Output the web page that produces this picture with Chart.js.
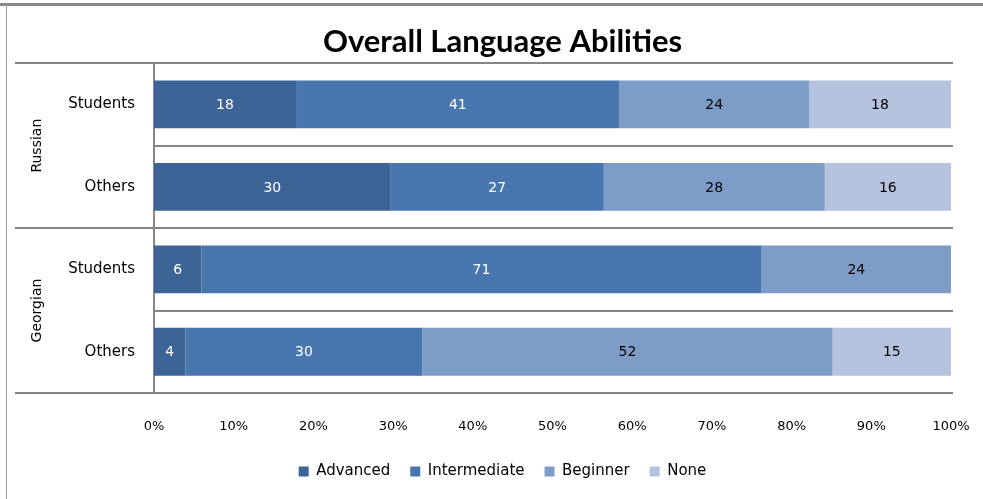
<!DOCTYPE html>
<html>
<head>
<meta charset="utf-8">
<script src="https://cdn.jsdelivr.net/npm/chart.js@4"></script>
<style>
html,body{margin:0;padding:0;background:#fff;}
#wrap{width:983px;height:499px;position:relative;}
</style>
</head>
<body>
<div id="wrap"><canvas id="c" width="983" height="499"></canvas></div>
<script>
const categories = ["Students", "Others", "Students", "Others"];
const groups = ["Russian", "Georgian"];
const seriesNames = ["Advanced", "Intermediate", "Beginner", "None"];
const advanced = [18, 30, 6, 4];
const intermediate = [41, 27, 71, 30];
const beginner = [24, 28, 24, 52];
const none = [18, 16, null, 15];
const xTicks = [0, 10, 20, 30, 40, 50, 60, 70, 80, 90, 100];

const colors = ["#3D6496", "#4877B0", "#7E9CC8", "#B5C3DE"];
const labelColors = ["#ffffff", "#ffffff", "#000000", "#000000"];
const raw = [advanced, intermediate, beginner, none];
const totals = categories.map((_, i) => raw.reduce((s, arr) => s + (arr[i] || 0), 0));

const datasets = raw.map((arr, k) => ({
  label: seriesNames[k],
  data: arr.map((v, i) => v == null ? null : v / totals[i] * 100),
  rawValues: arr,
  backgroundColor: colors[k],
  borderWidth: 0,
  categoryPercentage: 1.0,
  barPercentage: 0.58
}));

const framePlugin = {
  id: 'frame',
  beforeDraw(chart) {
    const ctx = chart.ctx;
    ctx.save();
    ctx.fillStyle = '#ffffff';
    ctx.fillRect(0, 0, chart.width, chart.height);
    ctx.fillStyle = '#888888';
    ctx.fillRect(0, 3, chart.width, 3);
    ctx.fillStyle = '#9a9a9a';
    ctx.fillRect(6, 4, 1, chart.height - 4);
    ctx.restore();
  }
};

const gridPlugin = {
  id: 'groupGrid',
  afterDraw(chart) {
    const ctx = chart.ctx;
    const y = chart.scales.y;
    const area = chart.chartArea;
    const n = categories.length;
    const pitch = (n > 1) ? (y.getPixelForValue(1) - y.getPixelForValue(0)) : (area.bottom - area.top);
    ctx.save();
    ctx.strokeStyle = '#868686';
    ctx.lineWidth = 2;
    for (let i = 0; i <= n; i++) {
      const py = Math.round(y.getPixelForValue(0) + (i - 0.5) * pitch);
      const isGroup = (i % 2 === 0);
      ctx.beginPath();
      ctx.moveTo(isGroup ? 15 : area.left, py);
      ctx.lineTo(area.right + 2, py);
      ctx.stroke();
    }
    ctx.fillStyle = '#000';
    ctx.font = '14px "DejaVu Sans"';
    ctx.textAlign = 'center';
    ctx.textBaseline = 'middle';
    groups.forEach((g, gi) => {
      const cy = (y.getPixelForValue(gi * 2) + y.getPixelForValue(gi * 2 + 1)) / 2;
      ctx.save();
      ctx.translate(37, cy);
      ctx.rotate(-Math.PI / 2);
      ctx.fillText(g, 0, 0);
      ctx.restore();
    });
    ctx.restore();
  }
};

const valueLabelPlugin = {
  id: 'valueLabels',
  afterDatasetsDraw(chart) {
    const ctx = chart.ctx;
    ctx.save();
    ctx.font = '14px "DejaVu Sans"';
    ctx.textAlign = 'center';
    ctx.textBaseline = 'middle';
    chart.data.datasets.forEach((ds, k) => {
      const meta = chart.getDatasetMeta(k);
      meta.data.forEach((el, i) => {
        const v = ds.rawValues[i];
        if (v == null) return;
        ctx.fillStyle = labelColors[k];
        ctx.fillText(String(v), (el.x + el.base) / 2, el.y + 1);
      });
    });
    ctx.restore();
  }
};

new Chart(document.getElementById('c'), {
  type: 'bar',
  data: { labels: categories, datasets },
  options: {
    indexAxis: 'y',
    responsive: false,
    animation: false,
    devicePixelRatio: 1,
    layout: { padding: { left: 22, right: 0, top: 0, bottom: 10 } },
    scales: {
      x: {
        stacked: true,
        min: 0, max: 100,
        afterBuildTicks(scale) { scale.ticks = xTicks.map(v => ({ value: v })); },
        ticks: {
          callback: v => v + '%',
          font: { family: 'DejaVu Sans', size: 13 },
          color: '#000',
          padding: 3,
          maxRotation: 0,
          autoSkip: false
        },
        grid: { display: false, drawTicks: true, tickLength: 23 },
        border: { display: false },
        afterFit(scale) { scale.height = 51; }
      },
      y: {
        stacked: true,
        ticks: {
          font: { family: 'DejaVu Sans', size: 15 },
          color: '#000',
          padding: 19
        },
        grid: { display: false, drawTicks: false },
        border: { display: true, color: '#868686', width: 2 },
        afterFit(scale) { scale.width = 132; }
      },
      y2: {
        position: 'right',
        display: true,
        ticks: { display: false },
        grid: { display: false, drawTicks: false },
        border: { display: false },
        afterFit(scale) { scale.width = 32; }
      }
    },
    plugins: {
      title: {
        display: true,
        text: 'Overall Language Abilities',
        font: { family: 'Lato', size: 31, weight: 'bold' },
        color: '#000',
        padding: { top: 23, bottom: 3 }
      },
      legend: {
        position: 'bottom',
        labels: {
          boxWidth: 10,
          boxHeight: 10,
          padding: 20,
          font: { family: 'DejaVu Sans', size: 15 },
          color: '#000'
        }
      },
      tooltip: { enabled: false }
    }
  },
  plugins: [framePlugin, gridPlugin, valueLabelPlugin]
});
</script>
</body>
</html>
